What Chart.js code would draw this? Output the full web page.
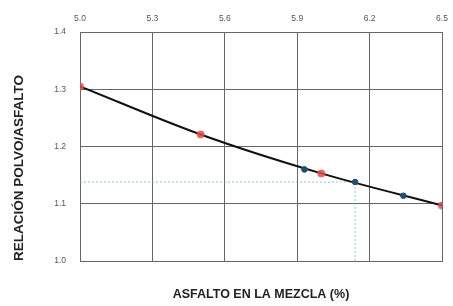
<!DOCTYPE html>
<html><head><meta charset="utf-8">
<script src="https://cdn.jsdelivr.net/npm/chart.js@4/dist/chart.umd.min.js"></script>
<style>html,body{margin:0;padding:0;background:#fff}#wrap{width:453px;height:306px}</style>
</head><body><div id="wrap"><canvas id="c" width="453" height="306"></canvas></div>
<script>
const xTicks = [5.0, 5.3, 5.6, 5.9, 6.2, 6.5];
const yTicks = [1.0, 1.1, 1.2, 1.3, 1.4];
const redX = [5.0, 5.5, 6.0, 6.5];
const redY = [1.305, 1.221, 1.153, 1.097];
const blueX = [5.93, 6.14, 6.34];
const blueY = [1.160, 1.138, 1.114];
const guideX = [5.0, 6.14, 6.14];
const guideY = [1.138, 1.138, 1.0];
const xTitle = 'ASFALTO EN LA MEZCLA (%)';
const yTitle = 'RELACIÓN POLVO/ASFALTO';

const pts = (xs, ys) => xs.map((x, i) => ({x: x, y: ys[i]}));
const fixTicks = vals => function(scale){ scale.ticks = vals.map(v => ({value: v})); };

new Chart(document.getElementById('c'), {
  type: 'scatter',
  data: {datasets: [
    {data: pts(guideX, guideY), showLine: true, borderColor: 'rgba(110,170,225,0.75)', borderWidth: 1, borderDash: [2,2], pointRadius: 0, tension: 0, order: 3},
    {data: pts(redX, redY), showLine: true, borderColor: '#111', borderWidth: 2, cubicInterpolationMode: 'monotone',
     pointRadius: 3, pointBackgroundColor: 'rgba(225,80,80,0.75)', pointBorderColor: 'rgba(225,80,80,0.75)', order: 2},
    {data: pts(blueX, blueY), showLine: false, pointRadius: 2.8, pointBackgroundColor: '#1f4e6e', pointBorderColor: '#1f4e6e', order: 1}
  ]},
  options: {
    responsive: false, animation: false, events: [],
    layout: {padding: {top: 0, right: 11, left: 0, bottom: 0}},
    plugins: {legend: {display: false}, tooltip: {enabled: false}},
    scales: {
      x: {type: 'linear', position: 'top', min: 5.0, max: 6.5,
          afterBuildTicks: fixTicks(xTicks),
          afterFit: s => { s.height = 32; s.paddingLeft = 0; s.paddingRight = 0; },
          grid: {color: '#666', lineWidth: 1, drawTicks: false},
          border: {color: '#666'},
          ticks: {padding: 8, color: '#555', font: {family: 'Liberation Sans', size: 8.5}, callback: v => v.toFixed(1)}},
      x2: {type: 'linear', position: 'bottom', min: 5.0, max: 6.5,
          afterFit: s => { s.height = 45; s.paddingLeft = 0; s.paddingRight = 0; },
          grid: {display: false}, border: {color: '#666'},
          ticks: {display: false},
          title: {display: true, text: xTitle, color: '#222', align: 'center', padding: {top: 24}, font: {family: 'Liberation Sans', size: 12.5, weight: 'bold'}}},
      y: {type: 'linear', min: 1.0, max: 1.4,
          afterBuildTicks: fixTicks(yTicks),
          afterFit: s => { s.width = 80; },
          grid: {color: '#666', lineWidth: 1, drawTicks: false},
          border: {color: '#666'},
          ticks: {padding: 14, color: '#555', font: {family: 'Liberation Sans', size: 8.5}, callback: v => v.toFixed(1)},
          title: {display: true, text: yTitle, color: '#222', align: 'start', padding: {bottom: 0, top: 11}, font: {family: 'Liberation Sans', size: 13.5, weight: 'bold'}}}
    }
  }
});
</script></body></html>
